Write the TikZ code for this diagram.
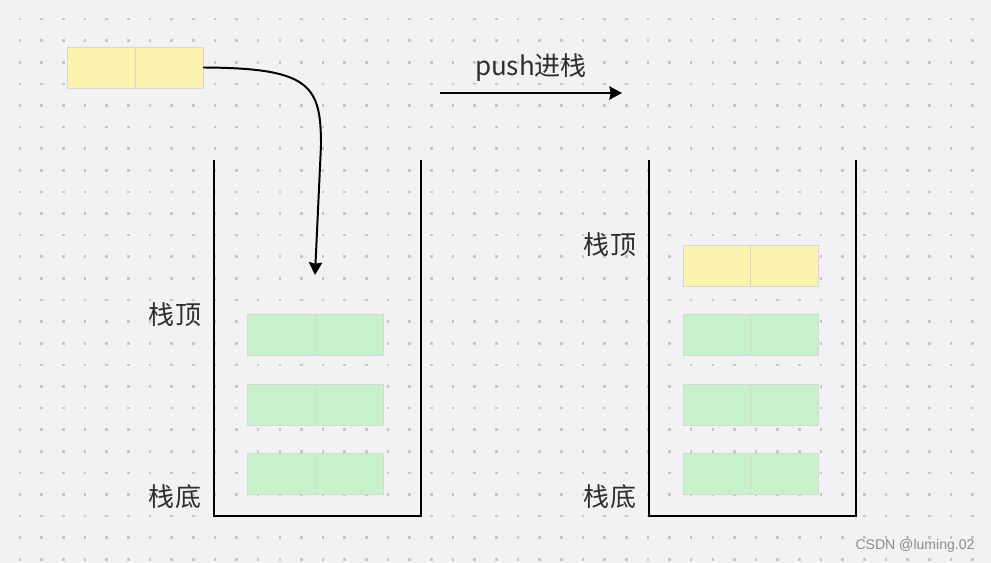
\documentclass[tikz,border=0pt]{standalone}
\usepackage{fontspec}
\setmainfont{Noto Sans CJK SC}
\newfontfamily\wmfont{Liberation Sans}
\usetikzlibrary{arrows.meta,positioning}

\definecolor{bgc}{HTML}{F2F2F4}
\definecolor{dotc}{HTML}{C6C6C8}
\definecolor{yelc}{HTML}{FCF4AE}
\definecolor{grnc}{HTML}{C8F2CB}
\definecolor{edgec}{HTML}{D6D6D6}
\definecolor{txtc}{HTML}{2E2E2E}

\begin{document}
\begin{tikzpicture}[
  x=0.025cm,y=-0.025cm,
  cell/.style={draw=edgec, line width=0.6pt, minimum width=1.7cm, minimum height=1.025cm, inner sep=0pt, outer sep=0pt},
  ycell/.style={cell, fill=yelc},
  gcell/.style={cell, fill=grnc},
  wall/.style={line width=1.8pt, line join=miter},
  lab/.style={font=\fontsize{18.5}{20}\selectfont, text=txtc, inner sep=0pt},
  arr/.style={-{Stealth[length=9pt,width=9.5pt,inset=1pt]}, line width=1.4pt, line join=round}
]
\useasboundingbox[fill=bgc] (0,0) rectangle (991,563);

% dot grid
\foreach \i in {0,...,44}
  \foreach \j in {0,...,25}
    \fill[dotc] ({20+21.65*\i-1.3},{19.2+21.6*\j-1.3}) rectangle ++(2.6,2.6);

% element to push
\node[ycell] (n1) at (101,67.5) {};
\node[ycell] (n2) at (169,67.5) {};

% left stack
\draw[wall] (214,160) |- (421,516) -- (421,160);
\node[gcell] (a1) at (281.3,335) {};
\node[gcell] (a2) at (349.5,335) {};
\node[gcell] (b1) at (281.3,404.5) {};
\node[gcell] (b2) at (349.5,404.5) {};
\node[gcell] (c1) at (281.3,474.3) {};
\node[gcell] (c2) at (349.5,474.3) {};
\node[lab] (ltop) at (175,315) {栈顶};
\node[lab] (lbot) at (175,497) {栈底};

% right stack
\draw[wall] (649,160) |- (856,516) -- (856,160);
\node[ycell] (d1) at (717,265.5) {};
\node[ycell] (d2) at (784.5,265.5) {};
\node[gcell] (e1) at (717,335) {};
\node[gcell] (e2) at (784.5,335) {};
\node[gcell] (f1) at (717,404.5) {};
\node[gcell] (f2) at (784.5,404.5) {};
\node[gcell] (g1) at (717,474.3) {};
\node[gcell] (g2) at (784.5,474.3) {};
\node[lab] (rtop) at (610,245) {栈顶};
\node[lab] (rbot) at (610,497) {栈底};

% arrows
\coordinate (bend) at (321,145);
\coordinate (drop) at (315,275);
\draw[arr] (n2.east) .. controls (310,68) and (321,85) .. (bend) -- (drop);
\coordinate (ps) at (440,93);
\coordinate (pe) at (622,93);
\draw[arr] (ps) -- (pe);
\node[lab] (push) at (531,68) {push进栈};

\node[font=\wmfont\fontsize{10}{12}\selectfont, text=black!45, inner sep=0pt] (wm) at (915,546) {CSDN @luming.02};
\end{tikzpicture}
\end{document}
